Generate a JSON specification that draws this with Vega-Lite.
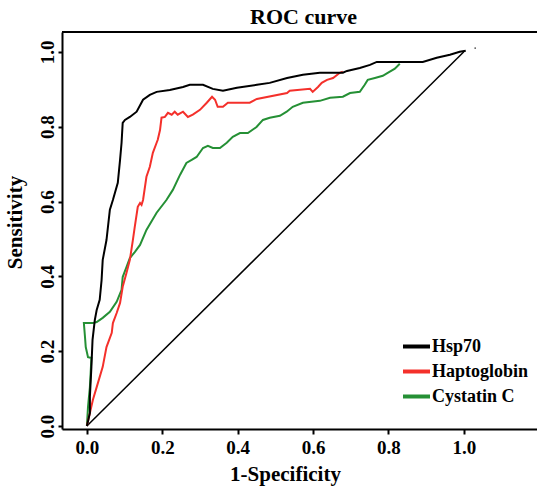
{
  "$schema": "https://vega.github.io/schema/vega-lite/v6.json",
  "width": 475,
  "height": 397,
  "autosize": {"type": "none"},
  "padding": {"left": 62, "top": 32, "right": 0, "bottom": 59},
  "background": "white",
  "title": {"text": "ROC curve", "font": "Liberation Serif", "fontSize": 22, "fontWeight": "bold", "anchor": "middle", "baseline": "alphabetic", "offset": -15, "dx": 4, "color": "black"},
  "config": {"view": {"stroke": null}, "font": "Liberation Serif"},
  "datasets": {
    "diag": [{"x": 0, "y": 0}, {"x": 1, "y": 1}],
    "dot": [{"x": 1.03, "y": 1.01}],
    "roc": [
      {"s": "Cystatin C", "i": 0, "x": 0, "y": 0},
      {"s": "Cystatin C", "i": 1, "x": 0.003, "y": 0.051},
      {"s": "Cystatin C", "i": 2, "x": 0.008, "y": 0.104},
      {"s": "Cystatin C", "i": 3, "x": 0.01, "y": 0.142},
      {"s": "Cystatin C", "i": 4, "x": 0.012, "y": 0.182},
      {"s": "Cystatin C", "i": 5, "x": 0.003, "y": 0.184},
      {"s": "Cystatin C", "i": 6, "x": -0.003, "y": 0.211},
      {"s": "Cystatin C", "i": 7, "x": -0.005, "y": 0.238},
      {"s": "Cystatin C", "i": 8, "x": -0.008, "y": 0.275},
      {"s": "Cystatin C", "i": 9, "x": 0.016, "y": 0.275},
      {"s": "Cystatin C", "i": 10, "x": 0.026, "y": 0.278},
      {"s": "Cystatin C", "i": 11, "x": 0.042, "y": 0.289},
      {"s": "Cystatin C", "i": 12, "x": 0.061, "y": 0.305},
      {"s": "Cystatin C", "i": 13, "x": 0.079, "y": 0.332},
      {"s": "Cystatin C", "i": 14, "x": 0.092, "y": 0.364},
      {"s": "Cystatin C", "i": 15, "x": 0.095, "y": 0.398},
      {"s": "Cystatin C", "i": 16, "x": 0.105, "y": 0.425},
      {"s": "Cystatin C", "i": 17, "x": 0.114, "y": 0.449},
      {"s": "Cystatin C", "i": 18, "x": 0.127, "y": 0.465},
      {"s": "Cystatin C", "i": 19, "x": 0.141, "y": 0.484},
      {"s": "Cystatin C", "i": 20, "x": 0.158, "y": 0.524},
      {"s": "Cystatin C", "i": 21, "x": 0.185, "y": 0.57},
      {"s": "Cystatin C", "i": 22, "x": 0.211, "y": 0.604},
      {"s": "Cystatin C", "i": 23, "x": 0.228, "y": 0.631},
      {"s": "Cystatin C", "i": 24, "x": 0.247, "y": 0.671},
      {"s": "Cystatin C", "i": 25, "x": 0.264, "y": 0.703},
      {"s": "Cystatin C", "i": 26, "x": 0.278, "y": 0.711},
      {"s": "Cystatin C", "i": 27, "x": 0.291, "y": 0.719},
      {"s": "Cystatin C", "i": 28, "x": 0.308, "y": 0.743},
      {"s": "Cystatin C", "i": 29, "x": 0.321, "y": 0.749},
      {"s": "Cystatin C", "i": 30, "x": 0.334, "y": 0.743},
      {"s": "Cystatin C", "i": 31, "x": 0.353, "y": 0.743},
      {"s": "Cystatin C", "i": 32, "x": 0.371, "y": 0.757},
      {"s": "Cystatin C", "i": 33, "x": 0.387, "y": 0.773},
      {"s": "Cystatin C", "i": 34, "x": 0.406, "y": 0.783},
      {"s": "Cystatin C", "i": 35, "x": 0.427, "y": 0.783},
      {"s": "Cystatin C", "i": 36, "x": 0.45, "y": 0.799},
      {"s": "Cystatin C", "i": 37, "x": 0.467, "y": 0.818},
      {"s": "Cystatin C", "i": 38, "x": 0.485, "y": 0.824},
      {"s": "Cystatin C", "i": 39, "x": 0.512, "y": 0.829},
      {"s": "Cystatin C", "i": 40, "x": 0.53, "y": 0.84},
      {"s": "Cystatin C", "i": 41, "x": 0.546, "y": 0.853},
      {"s": "Cystatin C", "i": 42, "x": 0.573, "y": 0.864},
      {"s": "Cystatin C", "i": 43, "x": 0.618, "y": 0.869},
      {"s": "Cystatin C", "i": 44, "x": 0.645, "y": 0.877},
      {"s": "Cystatin C", "i": 45, "x": 0.679, "y": 0.88},
      {"s": "Cystatin C", "i": 46, "x": 0.698, "y": 0.89},
      {"s": "Cystatin C", "i": 47, "x": 0.724, "y": 0.893},
      {"s": "Cystatin C", "i": 48, "x": 0.737, "y": 0.912},
      {"s": "Cystatin C", "i": 49, "x": 0.745, "y": 0.925},
      {"s": "Cystatin C", "i": 50, "x": 0.764, "y": 0.93},
      {"s": "Cystatin C", "i": 51, "x": 0.785, "y": 0.936},
      {"s": "Cystatin C", "i": 52, "x": 0.798, "y": 0.944},
      {"s": "Cystatin C", "i": 53, "x": 0.817, "y": 0.955},
      {"s": "Cystatin C", "i": 54, "x": 0.83, "y": 0.968},
      {"s": "Haptoglobin", "i": 0, "x": 0, "y": 0},
      {"s": "Haptoglobin", "i": 1, "x": 0.016, "y": 0.07},
      {"s": "Haptoglobin", "i": 2, "x": 0.026, "y": 0.104},
      {"s": "Haptoglobin", "i": 3, "x": 0.042, "y": 0.158},
      {"s": "Haptoglobin", "i": 4, "x": 0.052, "y": 0.211},
      {"s": "Haptoglobin", "i": 5, "x": 0.066, "y": 0.249},
      {"s": "Haptoglobin", "i": 6, "x": 0.069, "y": 0.275},
      {"s": "Haptoglobin", "i": 7, "x": 0.079, "y": 0.302},
      {"s": "Haptoglobin", "i": 8, "x": 0.088, "y": 0.329},
      {"s": "Haptoglobin", "i": 9, "x": 0.095, "y": 0.372},
      {"s": "Haptoglobin", "i": 10, "x": 0.105, "y": 0.409},
      {"s": "Haptoglobin", "i": 11, "x": 0.114, "y": 0.444},
      {"s": "Haptoglobin", "i": 12, "x": 0.122, "y": 0.497},
      {"s": "Haptoglobin", "i": 13, "x": 0.127, "y": 0.532},
      {"s": "Haptoglobin", "i": 14, "x": 0.135, "y": 0.586},
      {"s": "Haptoglobin", "i": 15, "x": 0.141, "y": 0.596},
      {"s": "Haptoglobin", "i": 16, "x": 0.145, "y": 0.591},
      {"s": "Haptoglobin", "i": 17, "x": 0.149, "y": 0.604},
      {"s": "Haptoglobin", "i": 18, "x": 0.158, "y": 0.666},
      {"s": "Haptoglobin", "i": 19, "x": 0.167, "y": 0.693},
      {"s": "Haptoglobin", "i": 20, "x": 0.175, "y": 0.73},
      {"s": "Haptoglobin", "i": 21, "x": 0.185, "y": 0.757},
      {"s": "Haptoglobin", "i": 22, "x": 0.188, "y": 0.765},
      {"s": "Haptoglobin", "i": 23, "x": 0.194, "y": 0.791},
      {"s": "Haptoglobin", "i": 24, "x": 0.198, "y": 0.824},
      {"s": "Haptoglobin", "i": 25, "x": 0.207, "y": 0.826},
      {"s": "Haptoglobin", "i": 26, "x": 0.215, "y": 0.837},
      {"s": "Haptoglobin", "i": 27, "x": 0.225, "y": 0.832},
      {"s": "Haptoglobin", "i": 28, "x": 0.233, "y": 0.84},
      {"s": "Haptoglobin", "i": 29, "x": 0.241, "y": 0.832},
      {"s": "Haptoglobin", "i": 30, "x": 0.255, "y": 0.84},
      {"s": "Haptoglobin", "i": 31, "x": 0.268, "y": 0.826},
      {"s": "Haptoglobin", "i": 32, "x": 0.281, "y": 0.832},
      {"s": "Haptoglobin", "i": 33, "x": 0.3, "y": 0.845},
      {"s": "Haptoglobin", "i": 34, "x": 0.318, "y": 0.864},
      {"s": "Haptoglobin", "i": 35, "x": 0.332, "y": 0.88},
      {"s": "Haptoglobin", "i": 36, "x": 0.34, "y": 0.872},
      {"s": "Haptoglobin", "i": 37, "x": 0.347, "y": 0.853},
      {"s": "Haptoglobin", "i": 38, "x": 0.361, "y": 0.853},
      {"s": "Haptoglobin", "i": 39, "x": 0.374, "y": 0.864},
      {"s": "Haptoglobin", "i": 40, "x": 0.432, "y": 0.864},
      {"s": "Haptoglobin", "i": 41, "x": 0.451, "y": 0.874},
      {"s": "Haptoglobin", "i": 42, "x": 0.531, "y": 0.89},
      {"s": "Haptoglobin", "i": 43, "x": 0.538, "y": 0.896},
      {"s": "Haptoglobin", "i": 44, "x": 0.592, "y": 0.901},
      {"s": "Haptoglobin", "i": 45, "x": 0.599, "y": 0.893},
      {"s": "Haptoglobin", "i": 46, "x": 0.613, "y": 0.906},
      {"s": "Haptoglobin", "i": 47, "x": 0.623, "y": 0.917},
      {"s": "Haptoglobin", "i": 48, "x": 0.637, "y": 0.925},
      {"s": "Haptoglobin", "i": 49, "x": 0.653, "y": 0.93},
      {"s": "Haptoglobin", "i": 50, "x": 0.671, "y": 0.944},
      {"s": "Haptoglobin", "i": 51, "x": 0.679, "y": 0.947},
      {"s": "Hsp70", "i": 0, "x": 0, "y": 0},
      {"s": "Hsp70", "i": 1, "x": 0.008, "y": 0.035},
      {"s": "Hsp70", "i": 2, "x": 0.008, "y": 0.078},
      {"s": "Hsp70", "i": 3, "x": 0.012, "y": 0.158},
      {"s": "Hsp70", "i": 4, "x": 0.015, "y": 0.23},
      {"s": "Hsp70", "i": 5, "x": 0.021, "y": 0.283},
      {"s": "Hsp70", "i": 6, "x": 0.026, "y": 0.31},
      {"s": "Hsp70", "i": 7, "x": 0.034, "y": 0.337},
      {"s": "Hsp70", "i": 8, "x": 0.039, "y": 0.39},
      {"s": "Hsp70", "i": 9, "x": 0.042, "y": 0.444},
      {"s": "Hsp70", "i": 10, "x": 0.052, "y": 0.497},
      {"s": "Hsp70", "i": 11, "x": 0.061, "y": 0.578},
      {"s": "Hsp70", "i": 12, "x": 0.069, "y": 0.604},
      {"s": "Hsp70", "i": 13, "x": 0.082, "y": 0.65},
      {"s": "Hsp70", "i": 14, "x": 0.088, "y": 0.711},
      {"s": "Hsp70", "i": 15, "x": 0.092, "y": 0.757},
      {"s": "Hsp70", "i": 16, "x": 0.095, "y": 0.81},
      {"s": "Hsp70", "i": 17, "x": 0.101, "y": 0.818},
      {"s": "Hsp70", "i": 18, "x": 0.114, "y": 0.826},
      {"s": "Hsp70", "i": 19, "x": 0.132, "y": 0.84},
      {"s": "Hsp70", "i": 20, "x": 0.149, "y": 0.872},
      {"s": "Hsp70", "i": 21, "x": 0.167, "y": 0.885},
      {"s": "Hsp70", "i": 22, "x": 0.185, "y": 0.893},
      {"s": "Hsp70", "i": 23, "x": 0.22, "y": 0.898},
      {"s": "Hsp70", "i": 24, "x": 0.255, "y": 0.906},
      {"s": "Hsp70", "i": 25, "x": 0.273, "y": 0.912},
      {"s": "Hsp70", "i": 26, "x": 0.308, "y": 0.912},
      {"s": "Hsp70", "i": 27, "x": 0.334, "y": 0.901},
      {"s": "Hsp70", "i": 28, "x": 0.361, "y": 0.896},
      {"s": "Hsp70", "i": 29, "x": 0.398, "y": 0.904},
      {"s": "Hsp70", "i": 30, "x": 0.451, "y": 0.912},
      {"s": "Hsp70", "i": 31, "x": 0.485, "y": 0.917},
      {"s": "Hsp70", "i": 32, "x": 0.531, "y": 0.93},
      {"s": "Hsp70", "i": 33, "x": 0.573, "y": 0.939},
      {"s": "Hsp70", "i": 34, "x": 0.618, "y": 0.944},
      {"s": "Hsp70", "i": 35, "x": 0.679, "y": 0.944},
      {"s": "Hsp70", "i": 36, "x": 0.69, "y": 0.949},
      {"s": "Hsp70", "i": 37, "x": 0.724, "y": 0.957},
      {"s": "Hsp70", "i": 38, "x": 0.751, "y": 0.965},
      {"s": "Hsp70", "i": 39, "x": 0.769, "y": 0.973},
      {"s": "Hsp70", "i": 40, "x": 0.891, "y": 0.973},
      {"s": "Hsp70", "i": 41, "x": 0.928, "y": 0.984},
      {"s": "Hsp70", "i": 42, "x": 0.963, "y": 0.992},
      {"s": "Hsp70", "i": 43, "x": 0.989, "y": 1.0},
      {"s": "Hsp70", "i": 44, "x": 1.005, "y": 1.003}
    ]
  },
  "layer": [
    {
      "data": {"name": "diag"},
      "mark": {"type": "line", "color": "black", "strokeWidth": 1.5},
      "encoding": {
        "x": {
          "field": "x", "type": "quantitative",
          "scale": {"domain": [-0.066, 1.194], "nice": false, "zero": false},
          "axis": {
            "values": [0, 0.2, 0.4, 0.6, 0.8, 1.0], "format": ".1f", "grid": false,
            "domainColor": "black", "domainWidth": 2, "tickColor": "black", "tickWidth": 2, "tickSize": 5,
            "labelFont": "Liberation Serif", "labelFontSize": 19, "labelFontWeight": "bold", "labelColor": "black",
            "labelPadding": 4, "labelFlush": false, "labelOverlap": false,
            "title": "1-Specificity", "titleFont": "Liberation Serif", "titleFontSize": 21, "titleFontWeight": "bold",
            "titleColor": "black", "titleX": 223, "titleY": 51, "titleBaseline": "alphabetic", "titleAlign": "center"
          }
        },
        "y": {
          "field": "y", "type": "quantitative",
          "scale": {"domain": [-0.008, 1.053], "nice": false, "zero": false},
          "axis": {
            "values": [0, 0.2, 0.4, 0.6, 0.8, 1.0], "format": ".1f", "grid": false,
            "domainColor": "black", "domainWidth": 2, "tickColor": "black", "tickWidth": 2, "tickSize": 4,
            "labelFont": "Liberation Serif", "labelFontSize": 19, "labelFontWeight": "bold", "labelColor": "black",
            "labelAngle": 270, "labelAlign": "center", "labelBaseline": "alphabetic",
            "labelPadding": 5, "labelFlush": false, "labelOverlap": false,
            "title": "Sensitivity", "titleFont": "Liberation Serif", "titleFontSize": 21, "titleFontWeight": "bold",
            "titleColor": "black", "titleAngle": 270, "titleX": -41, "titleY": 190, "titleBaseline": "alphabetic", "titleAlign": "center"
          }
        }
      }
    },
    {
      "data": {"name": "roc"},
      "mark": {"type": "line", "strokeWidth": 2},
      "encoding": {
        "x": {"field": "x", "type": "quantitative"},
        "y": {"field": "y", "type": "quantitative"},
        "order": {"field": "i", "type": "quantitative"},
        "color": {
          "field": "s", "type": "nominal",
          "scale": {"domain": ["Hsp70", "Haptoglobin", "Cystatin C"], "range": ["#000000", "#f4302b", "#259035"]},
          "legend": {
            "title": null, "orient": "none", "legendX": 339, "legendY": 299,
            "symbolType": "stroke", "symbolSize": 729, "symbolStrokeWidth": 4,
            "labelFont": "Liberation Serif", "labelFontSize": 18, "labelFontWeight": "bold", "labelColor": "black",
            "labelOffset": 0, "rowPadding": -5.5, "padding": 0
          }
        }
      }
    },
    {
      "data": {"name": "dot"},
      "mark": {"type": "point", "filled": true, "color": "black", "size": 3},
      "encoding": {
        "x": {"field": "x", "type": "quantitative"},
        "y": {"field": "y", "type": "quantitative"}
      }
    },
    {
      "data": {"values": [{}]},
      "mark": {"type": "rule", "color": "black", "strokeWidth": 2},
      "encoding": {"y": {"datum": 1.053}}
    }
  ]
}
